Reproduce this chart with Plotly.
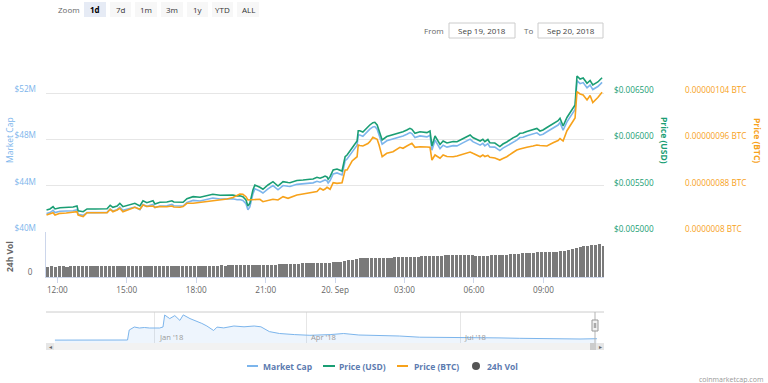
import plotly.graph_objects as go
import pandas as pd

# ---------------- data ----------------
times = [
    "2018-09-19 11:32", "2018-09-19 11:41", "2018-09-19 11:49", "2018-09-19 11:54", "2018-09-19 12:07",
    "2018-09-19 12:23", "2018-09-19 12:41", "2018-09-19 12:51", "2018-09-19 12:54", "2018-09-19 13:07",
    "2018-09-19 13:17", "2018-09-19 13:38", "2018-09-19 13:53", "2018-09-19 14:09", "2018-09-19 14:17",
    "2018-09-19 14:24", "2018-09-19 14:35", "2018-09-19 14:42", "2018-09-19 14:50", "2018-09-19 15:01",
    "2018-09-19 15:08", "2018-09-19 15:21", "2018-09-19 15:34", "2018-09-19 15:42", "2018-09-19 15:52",
    "2018-09-19 16:00", "2018-09-19 16:08", "2018-09-19 16:13", "2018-09-19 16:26", "2018-09-19 16:44",
    "2018-09-19 16:57", "2018-09-19 17:02", "2018-09-19 17:18", "2018-09-19 17:26", "2018-09-19 17:36",
    "2018-09-19 17:52", "2018-09-19 18:10", "2018-09-19 18:28", "2018-09-19 18:43", "2018-09-19 19:02",
    "2018-09-19 19:20", "2018-09-19 19:35", "2018-09-19 19:46", "2018-09-19 19:53", "2018-09-19 20:01",
    "2018-09-19 20:09", "2018-09-19 20:14", "2018-09-19 20:19", "2018-09-19 20:27", "2018-09-19 20:32",
    "2018-09-19 20:45", "2018-09-19 20:53", "2018-09-19 21:06", "2018-09-19 21:19", "2018-09-19 21:32",
    "2018-09-19 21:45", "2018-09-19 21:58", "2018-09-19 22:03", "2018-09-19 22:21", "2018-09-19 22:29",
    "2018-09-19 22:37", "2018-09-19 22:55", "2018-09-19 23:03", "2018-09-19 23:13", "2018-09-19 23:21",
    "2018-09-19 23:29", "2018-09-19 23:34", "2018-09-19 23:39", "2018-09-19 23:42", "2018-09-19 23:47",
    "2018-09-19 23:55", "2018-09-20 00:05", "2018-09-20 00:18", "2018-09-20 00:26", "2018-09-20 00:31",
    "2018-09-20 00:44", "2018-09-20 00:57", "2018-09-20 01:00", "2018-09-20 01:04", "2018-09-20 01:12",
    "2018-09-20 01:25", "2018-09-20 01:30", "2018-09-20 01:38", "2018-09-20 01:43", "2018-09-20 01:49",
    "2018-09-20 01:54", "2018-09-20 02:02", "2018-09-20 02:14", "2018-09-20 02:30", "2018-09-20 02:48",
    "2018-09-20 02:56", "2018-09-20 03:06", "2018-09-20 03:14", "2018-09-20 03:19", "2018-09-20 03:27",
    "2018-09-20 03:40", "2018-09-20 03:58", "2018-09-20 04:06", "2018-09-20 04:11", "2018-09-20 04:19",
    "2018-09-20 04:32", "2018-09-20 04:40", "2018-09-20 04:50", "2018-09-20 05:06", "2018-09-20 05:16",
    "2018-09-20 05:31", "2018-09-20 05:50", "2018-09-20 05:57", "2018-09-20 06:16", "2018-09-20 06:23",
    "2018-09-20 06:28", "2018-09-20 06:36", "2018-09-20 06:41", "2018-09-20 06:54", "2018-09-20 07:07",
    "2018-09-20 07:15", "2018-09-20 07:25", "2018-09-20 07:41", "2018-09-20 07:51", "2018-09-20 07:59",
    "2018-09-20 08:07", "2018-09-20 08:17", "2018-09-20 08:33", "2018-09-20 08:43", "2018-09-20 08:51",
    "2018-09-20 08:59", "2018-09-20 09:09", "2018-09-20 09:25", "2018-09-20 09:38", "2018-09-20 09:43",
    "2018-09-20 09:51", "2018-09-20 10:01", "2018-09-20 10:14", "2018-09-20 10:22", "2018-09-20 10:27",
    "2018-09-20 10:35", "2018-09-20 10:43", "2018-09-20 10:53", "2018-09-20 11:01", "2018-09-20 11:08",
    "2018-09-20 11:21", "2018-09-20 11:32",
]

price_usd = [
    0.005238, 0.005249, 0.005274, 0.005249, 0.005263, 0.005265, 0.005270, 0.005281, 0.005230, 0.005219,
    0.005249, 0.005249, 0.005254, 0.005252, 0.005289, 0.005267, 0.005281, 0.005310, 0.005274, 0.005286,
    0.005299, 0.005310, 0.005281, 0.005338, 0.005317, 0.005330, 0.005338, 0.005303, 0.005321, 0.005324,
    0.005338, 0.005324, 0.005319, 0.005321, 0.005360, 0.005382, 0.005375, 0.005389, 0.005408, 0.005397,
    0.005400, 0.005400, 0.005389, 0.005392, 0.005382, 0.005346, 0.005281, 0.005310, 0.005454, 0.005508,
    0.005483, 0.005462, 0.005508, 0.005544, 0.005497, 0.005544, 0.005535, 0.005533, 0.005557, 0.005562,
    0.005562, 0.005570, 0.005573, 0.005591, 0.005581, 0.005595, 0.005605, 0.005595, 0.005570, 0.005598,
    0.005670, 0.005681, 0.005659, 0.005814, 0.005832, 0.005908, 0.005984, 0.006095, 0.006095, 0.006081,
    0.006138, 0.006157, 0.006182, 0.006186, 0.006157, 0.006103, 0.005995, 0.006032, 0.006049, 0.006074,
    0.006084, 0.006103, 0.006121, 0.006110, 0.006067, 0.006084, 0.006074, 0.006092, 0.005930, 0.006038,
    0.005946, 0.005984, 0.005962, 0.005978, 0.005976, 0.006009, 0.006049, 0.006022, 0.005984, 0.006002,
    0.005976, 0.006000, 0.005965, 0.005962, 0.005924, 0.005951, 0.005973, 0.006018, 0.006038, 0.006067,
    0.006070, 0.006087, 0.006103, 0.006119, 0.006092, 0.006103, 0.006130, 0.006168, 0.006203, 0.006229,
    0.006146, 0.006238, 0.006319, 0.006373, 0.006687, 0.006654, 0.006665, 0.006608, 0.006638, 0.006589,
    0.006622, 0.006668,
]

market_cap_m = [
    41.59, 41.68, 41.88, 41.68, 41.79, 41.80, 41.84, 41.93, 41.53, 41.44,
    41.68, 41.68, 41.72, 41.70, 41.99, 41.82, 41.93, 42.16, 41.88, 41.97,
    42.07, 42.16, 41.93, 42.38, 42.22, 42.32, 42.38, 42.11, 42.25, 42.27,
    42.38, 42.27, 42.23, 42.25, 42.56, 42.73, 42.68, 42.79, 42.94, 42.85,
    42.88, 42.88, 42.79, 42.81, 42.73, 42.45, 41.93, 42.16, 43.30, 43.73,
    43.54, 43.37, 43.73, 44.02, 43.65, 44.02, 43.95, 43.93, 44.12, 44.16,
    44.16, 44.23, 44.25, 44.39, 44.31, 44.42, 44.50, 44.42, 44.23, 44.45,
    45.02, 45.11, 44.93, 46.16, 46.31, 46.91, 47.51, 48.39, 48.39, 48.28,
    48.74, 48.89, 49.09, 49.12, 48.89, 48.46, 47.60, 47.89, 48.03, 48.23,
    48.31, 48.46, 48.60, 48.51, 48.17, 48.31, 48.23, 48.37, 47.08, 47.94,
    47.21, 47.51, 47.34, 47.47, 47.45, 47.71, 48.03, 47.81, 47.51, 47.66,
    47.45, 47.64, 47.36, 47.34, 47.04, 47.25, 47.43, 47.78, 47.94, 48.17,
    48.20, 48.33, 48.46, 48.58, 48.37, 48.46, 48.67, 48.97, 49.25, 49.46,
    48.80, 49.53, 50.17, 50.60, 53.09, 52.83, 52.92, 52.47, 52.71, 52.32,
    52.58, 52.94,
]

price_btc = [
    8.294e-7, 8.311e-7, 8.334e-7, 8.294e-7, 8.323e-7, 8.329e-7, 8.337e-7, 8.351e-7, 8.294e-7, 8.265e-7,
    8.334e-7, 8.332e-7, 8.337e-7, 8.334e-7, 8.393e-7, 8.351e-7, 8.381e-7, 8.410e-7, 8.351e-7, 8.381e-7,
    8.398e-7, 8.427e-7, 8.393e-7, 8.467e-7, 8.441e-7, 8.450e-7, 8.450e-7, 8.427e-7, 8.441e-7, 8.438e-7,
    8.450e-7, 8.432e-7, 8.427e-7, 8.441e-7, 8.496e-7, 8.496e-7, 8.510e-7, 8.524e-7, 8.541e-7, 8.554e-7,
    8.571e-7, 8.597e-7, 8.640e-7, 8.657e-7, 8.652e-7, 8.611e-7, 8.554e-7, 8.554e-7, 8.554e-7, 8.562e-7,
    8.566e-7, 8.524e-7, 8.545e-7, 8.566e-7, 8.554e-7, 8.611e-7, 8.583e-7, 8.597e-7, 8.640e-7, 8.649e-7,
    8.657e-7, 8.675e-7, 8.680e-7, 8.701e-7, 8.756e-7, 8.726e-7, 8.744e-7, 8.773e-7, 8.761e-7, 8.739e-7,
    8.853e-7, 8.842e-7, 8.853e-7, 9.072e-7, 9.072e-7, 9.228e-7, 9.302e-7, 9.505e-7, 9.496e-7, 9.488e-7,
    9.531e-7, 9.562e-7, 9.638e-7, 9.621e-7, 9.603e-7, 9.505e-7, 9.302e-7, 9.361e-7, 9.389e-7, 9.465e-7,
    9.448e-7, 9.488e-7, 9.513e-7, 9.534e-7, 9.465e-7, 9.475e-7, 9.470e-7, 9.465e-7, 9.245e-7, 9.332e-7,
    9.275e-7, 9.332e-7, 9.306e-7, 9.302e-7, 9.315e-7, 9.349e-7, 9.384e-7, 9.361e-7, 9.302e-7, 9.332e-7,
    9.306e-7, 9.323e-7, 9.292e-7, 9.280e-7, 9.245e-7, 9.271e-7, 9.302e-7, 9.375e-7, 9.418e-7, 9.436e-7,
    9.453e-7, 9.465e-7, 9.488e-7, 9.505e-7, 9.496e-7, 9.488e-7, 9.488e-7, 9.545e-7, 9.583e-7, 9.617e-7,
    9.574e-7, 9.752e-7, 9.903e-7, 9.972e-7, 10.427e-7, 10.387e-7, 10.370e-7, 10.283e-7, 10.361e-7, 10.240e-7,
    10.326e-7, 10.416e-7,
]

# 24h volume (USD millions), one bar every 10 minutes from 11:35
volume_m = [
    1.05, 1.06, 1.04, 1.07, 1.06, 1.05, 1.08, 1.07, 1.06, 1.08,
    1.07, 1.09, 1.06, 1.08, 1.10, 1.07, 1.09, 1.08, 1.10, 1.09,
    1.08, 1.10, 1.11, 1.09, 1.10, 1.12, 1.10, 1.11, 1.09, 1.12,
    1.11, 1.13, 1.10, 1.12, 1.11, 1.13, 1.12, 1.14, 1.11, 1.13,
    1.14, 1.12, 1.15, 1.13, 1.14, 1.16, 1.15, 1.17, 1.16, 1.18,
    1.17, 1.19, 1.18, 1.20, 1.19, 1.21, 1.22, 1.21, 1.23, 1.25,
    1.26, 1.28, 1.30, 1.31, 1.33, 1.35, 1.36, 1.38, 1.39, 1.40,
    1.41, 1.43, 1.44, 1.45, 1.46, 1.50, 1.55, 1.60, 1.66, 1.72,
    1.80, 1.86, 1.87, 1.88, 1.86, 1.90, 1.92, 1.91, 1.93, 1.95,
    1.96, 1.97, 1.98, 2.00, 2.02, 2.03, 2.05, 2.07, 2.09, 2.10,
    2.12, 2.14, 2.15, 2.16, 2.17, 2.16, 2.17, 2.18, 2.17, 2.16,
    2.17, 2.12, 2.10, 2.12, 2.14, 2.16, 2.17, 2.18, 2.20, 2.24,
    2.28, 2.31, 2.34, 2.37, 2.40, 2.42, 2.44, 2.46, 2.47, 2.49,
    2.51, 2.53, 2.55, 2.58, 2.62, 2.70, 2.80, 2.92, 3.05, 3.10,
    3.15, 3.20, 3.25, 3.28, 3.15,
]
volume_times = pd.date_range("2018-09-19 11:35", periods=len(volume_m), freq="10min")

# navigator (all-time market cap, USD millions)
nav_dates = [
    "2017-11-03", "2017-12-16", "2017-12-17", "2017-12-18", "2017-12-20", "2017-12-23", "2017-12-26",
    "2017-12-29", "2018-01-04", "2018-01-06", "2018-01-07", "2018-01-10", "2018-01-13", "2018-01-16",
    "2018-01-18", "2018-01-22", "2018-01-25", "2018-01-29", "2018-02-01", "2018-02-05", "2018-02-07",
    "2018-02-11", "2018-02-17", "2018-02-23", "2018-03-01", "2018-03-05", "2018-03-10", "2018-03-16",
    "2018-03-25", "2018-04-03", "2018-04-15", "2018-04-23", "2018-05-02", "2018-05-14", "2018-05-26",
    "2018-06-07", "2018-06-19", "2018-07-01", "2018-07-12", "2018-07-24", "2018-08-05", "2018-08-17",
    "2018-08-29", "2018-09-10", "2018-09-20",
]
nav_mcap_m = [
    29, 30, 130, 140, 160, 150, 155,
    150, 150, 160, 280, 244, 274, 226,
    281, 244, 226, 196, 170, 125, 159,
    151, 170, 162, 170, 162, 114, 95,
    84, 77, 84, 95, 80, 77, 70,
    58, 58, 58, 55, 51, 47, 43,
    43, 40, 43,
]
nav_tick_dates = ["2018-01-01", "2018-04-01", "2018-07-01"]
nav_tick_labels = ["Jan '18", "Apr '18", "Jul '18"]

y_ticks_mcap = [40e6, 44e6, 48e6, 52e6, 56e6]
y_labels_mcap = ["$40M", "$44M", "$48M", "$52M", ""]
y_ticks_usd = [0.005, 0.0055, 0.006, 0.0065]
y_labels_usd = ["$0.005000", "$0.005500", "$0.006000", "$0.006500"]
y_ticks_btc = [8e-7, 8.8e-7, 9.6e-7, 1.04e-6]
y_labels_btc = ["0.0000008 BTC", "0.00000088 BTC", "0.00000096 BTC", "0.00000104 BTC"]
x_ticks = ["2018-09-19 12:00", "2018-09-19 15:00", "2018-09-19 18:00", "2018-09-19 21:00",
           "2018-09-20 00:00", "2018-09-20 03:00", "2018-09-20 06:00", "2018-09-20 09:00"]
x_labels = ["12:00", "15:00", "18:00", "21:00", "20. Sep", "03:00", "06:00", "09:00"]

# ---------------- layout helpers ----------------
W, H = 768, 383
L, R, T, B = 46, 164, 47, 34
PW = W - L - R
PH = H - T - B
FONT = "Open Sans, Verdana, sans-serif"
TICK = 8.2

C_MCAP = "#7cb5ec"
C_USD = "#1a9e74"
C_BTC = "#f7a21b"
C_VOL = "#7a7a7a"


def px(x):
    return (x - L) / PW


def py(y):
    return (H - B - y) / PH


market_cap = [v * 1e6 for v in market_cap_m]
volume = [v * 1e6 for v in volume_m]
nav_mcap = [v * 1e6 for v in nav_mcap_m]

fig = go.Figure()

fig.add_trace(go.Bar(x=volume_times, y=volume, yaxis="y4", xaxis="x",
                     marker=dict(color=C_VOL, line=dict(width=0)), width=480000,
                     name="24h Vol", showlegend=False))
fig.add_trace(go.Scatter(x=times, y=market_cap, yaxis="y", mode="lines",
                         line=dict(color=C_MCAP, width=1.6), name="Market Cap", showlegend=False))
fig.add_trace(go.Scatter(x=times, y=price_usd, yaxis="y2", mode="lines",
                         line=dict(color=C_USD, width=1.6), name="Price (USD)", showlegend=False))
fig.add_trace(go.Scatter(x=times, y=price_btc, yaxis="y3", mode="lines",
                         line=dict(color=C_BTC, width=1.6), name="Price (BTC)", showlegend=False))
fig.add_trace(go.Scatter(x=nav_dates, y=nav_mcap, xaxis="x2", yaxis="y5", mode="lines",
                         line=dict(color=C_MCAP, width=1), fill="tozeroy",
                         fillcolor="rgba(124,181,236,0.13)", showlegend=False))

fig.update_layout(
    width=W, height=H,
    margin=dict(l=L, r=R, t=T, b=B, pad=0),
    paper_bgcolor="white", plot_bgcolor="white",
    font=dict(family=FONT, size=8, color="#333"),
    showlegend=False,
    hovermode=False,
    bargap=0,
    xaxis=dict(domain=[0, 1], anchor="y4", type="date",
               range=["2018-09-19 11:30:40", "2018-09-20 11:37:00"],
               tickvals=x_ticks, ticktext=x_labels, showgrid=False,
               ticks="outside", ticklen=5, tickcolor="#ccd6eb",
               showline=True, linecolor="#ccd6eb", linewidth=1,
               tickfont=dict(family=FONT, size=TICK, color="#666"), zeroline=False),
    yaxis=dict(domain=[py(232), 1], anchor="x", range=[40e6, 56e6],
               tickvals=y_ticks_mcap, ticktext=y_labels_mcap,
               gridcolor="#e6e6e6", gridwidth=1, zeroline=False, showline=False, ticks="",
               tickfont=dict(family=FONT, size=TICK, color=C_MCAP),
               ticklabelshift=-4, ticklabelstandoff=9),
    yaxis2=dict(overlaying="y", side="right", anchor="x", range=[0.005, 0.007],
                tickvals=y_ticks_usd, ticktext=y_labels_usd, showgrid=False, zeroline=False,
                ticks="", tickfont=dict(family=FONT, size=TICK, color=C_USD),
                ticklabelshift=-3, ticklabelstandoff=9),
    yaxis3=dict(overlaying="y", side="right", anchor="free", position=1, autoshift=False, shift=71,
                range=[8e-7, 1.12e-6], tickvals=y_ticks_btc, ticktext=y_labels_btc,
                showgrid=False, zeroline=False, showline=False, ticks="",
                tickfont=dict(family=FONT, size=TICK, color=C_BTC),
                ticklabelshift=-3, ticklabelstandoff=9),
    yaxis4=dict(domain=[py(277), py(232)], anchor="x", range=[0, 4.5e6],
                tickvals=[0], ticktext=["0"], showgrid=False, zeroline=False,
                showline=True, linecolor="#ccd6eb", ticks="",
                tickfont=dict(family=FONT, size=TICK, color="#666"),
                ticklabelshift=-5, ticklabelstandoff=11),
    xaxis2=dict(domain=[0, 1], anchor="y5", type="date",
                range=["2017-10-28 17:00", "2018-09-24 05:00"],
                tickvals=nav_tick_dates, showticklabels=False,
                showgrid=True, gridcolor="#e6e6e6", gridwidth=1, ticks="",
                showline=False, zeroline=False),
    yaxis5=dict(domain=[py(343), py(312)], anchor="x2", range=[0, 310e6],
                showticklabels=False, showgrid=False, zeroline=False, showline=False, ticks=""),
)

shapes = []
annotations = []


def ann(x, y, text, size=8, color="#333", xanchor="center", yanchor="middle", bold=False, angle=0):
    if bold:
        text = "<b>" + text + "</b>"
    annotations.append(dict(xref="paper", yref="paper", x=px(x), y=py(y), text=text,
                            showarrow=False, xanchor=xanchor, yanchor=yanchor, textangle=angle,
                            font=dict(family=FONT, size=size, color=color)))


def rect(x0, y0, x1, y1, fill, line=None, lw=1):
    shapes.append(dict(type="rect", xref="paper", yref="paper", x0=px(x0), x1=px(x1),
                       y0=py(y0), y1=py(y1), fillcolor=fill,
                       line=dict(color=line if line else fill, width=lw if line else 0), layer="above"))


def hline(x0, x1, y, color, width=1):
    shapes.append(dict(type="line", xref="paper", yref="paper", x0=px(x0), x1=px(x1),
                       y0=py(y), y1=py(y), line=dict(color=color, width=width), layer="above"))


def vline(x, y0, y1, color, width=1):
    shapes.append(dict(type="line", xref="paper", yref="paper", x0=px(x), x1=px(x),
                       y0=py(y0), y1=py(y1), line=dict(color=color, width=width), layer="above"))


# navigator date labels (placed at their dates on the navigator axis)
for d, lab in zip(nav_tick_dates, nav_tick_labels):
    annotations.append(dict(xref="x2", yref="paper", x=d, y=py(337), text=lab, showarrow=False,
                            xanchor="left", yanchor="middle", xshift=2,
                            font=dict(family=FONT, size=7.6, color="#999")))

# range selector
ann(69, 10, "Zoom", size=8, color="#666")
buttons = [("1d", 84, 106), ("7d", 110, 131), ("1m", 135, 157), ("3m", 161, 183),
           ("1y", 187, 208), ("YTD", 212, 233), ("ALL", 237, 259)]
for i, (lab, a, b) in enumerate(buttons):
    sel = i == 0
    rect(a, 2, b, 17, "#e6ebf5" if sel else "#f7f7f7")
    ann((a + b) / 2, 10, lab, size=8, color="#000" if sel else "#333", bold=sel)

# date inputs
ann(434, 30, "From", size=8, color="#666")
rect(449, 23, 515, 38, "white", line="#cccccc")
ann(482, 30.5, "Sep 19, 2018", size=8, color="#444")
ann(528, 30, "To", size=8, color="#666")
rect(538, 23, 603, 38, "white", line="#cccccc")
ann(570.5, 30.5, "Sep 20, 2018", size=8, color="#444")

# axis titles
ann(9, 140, "Market Cap", size=8.5, color=C_MCAP, angle=-90)
ann(9, 257, "24h Vol", size=8.5, color="#666", angle=-90, bold=True)
ann(665, 140, "Price (USD)", size=8.5, color=C_USD, angle=90, bold=True)
ann(758, 140, "Price (BTC)", size=8.5, color=C_BTC, angle=90, bold=True)

# navigator frame + handle
hline(46, 604, 312, "#cccccc")
vline(595, 312, 343, "#b3b3b3")
rect(592, 320, 598, 331, "#f2f2f2", line="#999999")
vline(594.3, 323, 328, "#999999")
vline(595.7, 323, 328, "#999999")

# scrollbar
rect(46, 343, 604, 350, "#f2f2f2")
rect(46, 343, 54, 350, "#e6e6e6")
rect(596, 343, 604, 350, "#e6e6e6")
rect(590, 343, 596, 350, "#cccccc")
ann(50, 346.5, "◂", size=6, color="#666")
ann(600, 346.5, "▸", size=6, color="#666")

# legend
ly = 366
legend_items = [("Market Cap", C_MCAP, 247, 258, 261),
                ("Price (USD)", C_USD, 323, 335, 337),
                ("Price (BTC)", C_BTC, 397, 408, 412)]
for lab, col, a, b, tx in legend_items:
    hline(a, b, ly, col, width=2)
    ann(tx, ly, lab, size=8.5, color="#5c7bb0", xanchor="left", bold=True)
shapes.append(dict(type="circle", xref="paper", yref="paper",
                   x0=px(472), x1=px(480), y0=py(362), y1=py(370),
                   fillcolor="#555555", line=dict(width=0), layer="above"))
ann(485, ly, "24h Vol", size=8.5, color="#5c7bb0", xanchor="left", bold=True)

# credit
ann(765, 379, "coinmarketcap.com", size=7, color="#999", xanchor="right")

fig.update_layout(shapes=shapes, annotations=annotations)

fig.write_html("out.html", config={"displayModeBar": False},
               post_script="document.body.style.margin='0px';")
